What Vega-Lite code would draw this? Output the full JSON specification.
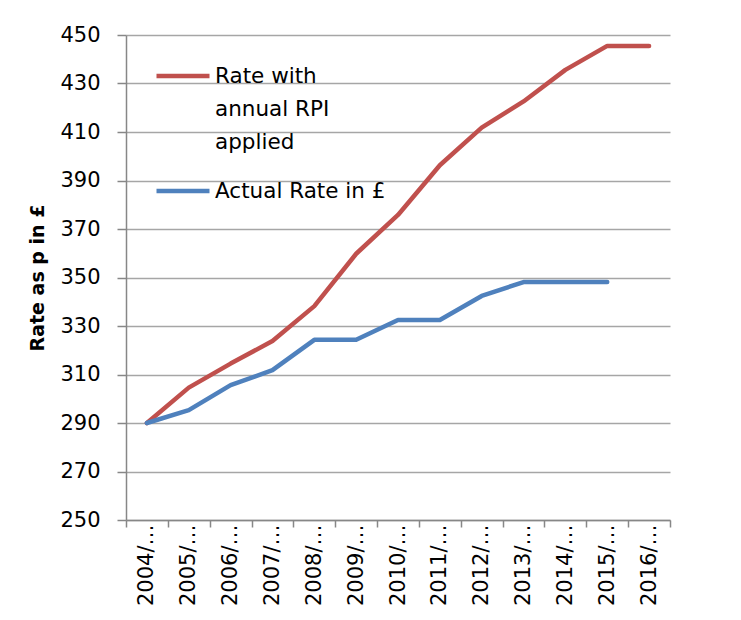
{
  "$schema": "https://vega.github.io/schema/vega-lite/v6.json",
  "width": 544,
  "height": 485,
  "autosize": "none",
  "padding": {"left": 126, "top": 35, "right": 71, "bottom": 100},
  "background": "white",
  "config": {
    "font": "DejaVu Sans",
    "view": {"stroke": null}
  },
  "data": {
    "values": [
      {"period": "2004/05", "series": "Rate with annual RPI applied", "rate": 290},
      {"period": "2005/06", "series": "Rate with annual RPI applied", "rate": 304.6},
      {"period": "2006/07", "series": "Rate with annual RPI applied", "rate": 314.5},
      {"period": "2007/08", "series": "Rate with annual RPI applied", "rate": 323.8},
      {"period": "2008/09", "series": "Rate with annual RPI applied", "rate": 338.2},
      {"period": "2009/10", "series": "Rate with annual RPI applied", "rate": 359.8},
      {"period": "2010/11", "series": "Rate with annual RPI applied", "rate": 375.8},
      {"period": "2011/12", "series": "Rate with annual RPI applied", "rate": 396.3},
      {"period": "2012/13", "series": "Rate with annual RPI applied", "rate": 411.8},
      {"period": "2013/14", "series": "Rate with annual RPI applied", "rate": 422.6},
      {"period": "2014/15", "series": "Rate with annual RPI applied", "rate": 435.6},
      {"period": "2015/16", "series": "Rate with annual RPI applied", "rate": 445.5},
      {"period": "2016/17", "series": "Rate with annual RPI applied", "rate": 445.5},
      {"period": "2004/05", "series": "Actual Rate in £", "rate": 290},
      {"period": "2005/06", "series": "Actual Rate in £", "rate": 295.3},
      {"period": "2006/07", "series": "Actual Rate in £", "rate": 305.6},
      {"period": "2007/08", "series": "Actual Rate in £", "rate": 311.8},
      {"period": "2008/09", "series": "Actual Rate in £", "rate": 324.3},
      {"period": "2009/10", "series": "Actual Rate in £", "rate": 324.3},
      {"period": "2010/11", "series": "Actual Rate in £", "rate": 332.5},
      {"period": "2011/12", "series": "Actual Rate in £", "rate": 332.5},
      {"period": "2012/13", "series": "Actual Rate in £", "rate": 342.4},
      {"period": "2013/14", "series": "Actual Rate in £", "rate": 348.1},
      {"period": "2014/15", "series": "Actual Rate in £", "rate": 348.1},
      {"period": "2015/16", "series": "Actual Rate in £", "rate": 348.1}
    ]
  },
  "mark": {"type": "line", "strokeWidth": 4.5, "strokeCap": "round", "strokeJoin": "round"},
  "encoding": {
    "x": {
      "field": "period",
      "type": "ordinal",
      "scale": {"type": "band", "paddingInner": 0, "paddingOuter": 0},
      "axis": {
        "title": null,
        "labelAngle": -90,
        "labelAlign": "right",
        "labelBaseline": "middle",
        "labelExpr": "datum.label ? slice(datum.label, 0, 5) + '…' : ''",
        "labelFontSize": 21,
        "labelColor": "#000000",
        "labelPadding": -3,
        "tickBand": "extent",
        "tickSize": 7,
        "tickColor": "#878787",
        "tickWidth": 1.5,
        "domainColor": "#878787",
        "domainWidth": 1.5,
        "grid": false
      }
    },
    "y": {
      "field": "rate",
      "type": "quantitative",
      "scale": {"domain": [250, 450], "nice": false, "zero": false},
      "axis": {
        "title": "Rate as p in £",
        "titleFontSize": 19,
        "titleFontWeight": "bold",
        "titleColor": "#000000",
        "titlePadding": 12,
        "values": [250, 270, 290, 310, 330, 350, 370, 390, 410, 430, 450],
        "labelFontSize": 21,
        "labelColor": "#000000",
        "labelPadding": 17,
        "tickSize": 9,
        "tickColor": "#878787",
        "tickWidth": 1.5,
        "domainColor": "#878787",
        "domainWidth": 1.5,
        "gridColor": "#A6A6A6",
        "gridWidth": 1.5
      }
    },
    "color": {
      "field": "series",
      "type": "nominal",
      "scale": {
        "domain": ["Rate with annual RPI applied", "Actual Rate in £"],
        "range": ["#C0504D", "#4F81BD"]
      },
      "legend": {
        "title": null,
        "orient": "none",
        "legendX": 28,
        "legendY": 12,
        "padding": 0,
        "symbolType": "stroke",
        "symbolSize": 2809,
        "symbolStrokeWidth": 4.5,
        "labelFontSize": 21.5,
        "labelColor": "#000000",
        "labelOffset": 3,
        "labelLimit": 400,
        "rowPadding": 8,
        "labelBaseline": "top",
        "labelExpr": "datum.label == 'Rate with annual RPI applied' ? ['Rate with', 'annual RPI', 'applied'] : datum.label",
        "encode": {
          "labels": {"update": {"lineHeight": {"value": 33}, "dy": {"value": -10}}}
        }
      }
    }
  }
}
